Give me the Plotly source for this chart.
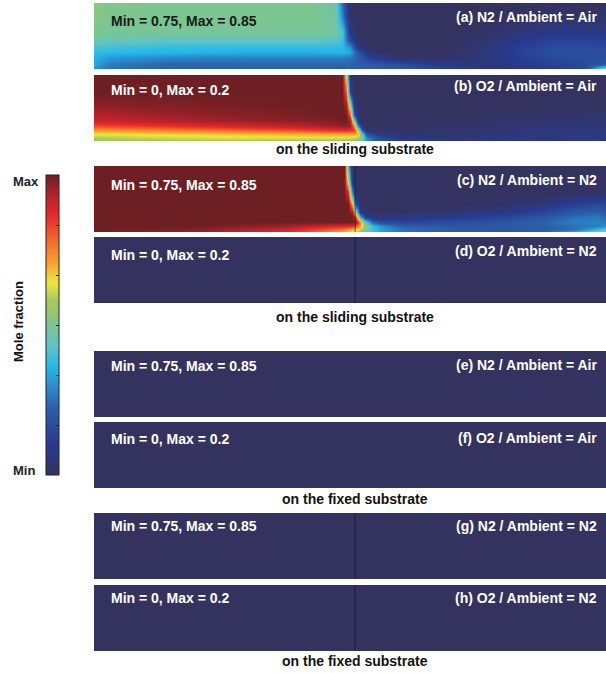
import plotly.graph_objects as go

W, H = 606, 673

# ---------------- colour scale (normalised mole fraction: 0 = Min, 1 = Max)
CSCALE = [
    [0.00, "#34335f"], [0.10, "#273a90"], [0.22, "#2c5ea9"], [0.30, "#2a8fd0"],
    [0.36, "#22b8ec"], [0.43, "#5ec4c6"], [0.50, "#7cc690"], [0.58, "#a8c95a"],
    [0.64, "#ebe63c"], [0.70, "#f8a82b"], [0.78, "#f26b2b"], [0.86, "#ec2a29"],
    [0.93, "#b8222a"], [1.00, "#6e1f23"],
]
CBAR_TICKS = [1/6, 2/6, 3/6, 4/6, 5/6]

# ---------------- field data (normalised), rows bottom -> top
A_X = [0.0, 0.03, 0.15, 0.3, 0.42, 0.47, 0.485, 0.5, 0.515, 0.54, 0.6, 0.68, 0.76, 0.84, 0.9, 0.96, 1.0]
A_Y = [0.0, 0.07, 0.16, 0.26, 0.34, 0.44, 0.56, 0.78, 1.0]
A_Z = [
    [0.30, 0.25, 0.22, 0.22, 0.22, 0.22, 0.22, 0.22, 0.22, 0.22, 0.20, 0.14, 0.06, 0.08, 0.10, 0.15, 0.55],
    [0.34, 0.27, 0.23, 0.23, 0.23, 0.23, 0.23, 0.23, 0.22, 0.20, 0.16, 0.08, 0.06, 0.10, 0.13, 0.15, 0.20],
    [0.35, 0.31, 0.28, 0.27, 0.27, 0.27, 0.27, 0.26, 0.21, 0.12, 0.03, 0.02, 0.05, 0.12, 0.15, 0.16, 0.16],
    [0.38, 0.37, 0.36, 0.35, 0.35, 0.36, 0.36, 0.34, 0.18, 0.03, 0.00, 0.00, 0.06, 0.13, 0.17, 0.17, 0.16],
    [0.41, 0.40, 0.38, 0.38, 0.38, 0.38, 0.37, 0.30, 0.06, 0.00, 0.00, 0.00, 0.05, 0.12, 0.16, 0.16, 0.15],
    [0.46, 0.45, 0.44, 0.44, 0.44, 0.43, 0.40, 0.15, 0.02, 0.00, 0.00, 0.00, 0.03, 0.09, 0.13, 0.13, 0.12],
    [0.50, 0.49, 0.49, 0.49, 0.49, 0.48, 0.42, 0.08, 0.00, 0.00, 0.00, 0.00, 0.01, 0.05, 0.08, 0.08, 0.07],
    [0.52, 0.50, 0.50, 0.50, 0.50, 0.48, 0.30, 0.02, 0.00, 0.00, 0.00, 0.00, 0.00, 0.02, 0.03, 0.03, 0.03],
    [0.53, 0.51, 0.50, 0.50, 0.50, 0.47, 0.25, 0.00, 0.00, 0.00, 0.00, 0.00, 0.00, 0.00, 0.00, 0.00, 0.00],
]

B_X = [0.0, 0.1, 0.25, 0.4, 0.47, 0.485, 0.493, 0.5, 0.507, 0.515, 0.523, 0.532, 0.55, 0.6, 0.7, 0.85, 1.0]
B_Y = [0.0, 0.05, 0.11, 0.17, 0.23, 0.3, 0.4, 0.55, 0.75, 1.0]
B_Z = [
    [0.55, 0.56, 0.57, 0.56, 0.55, 0.55, 0.55, 0.54, 0.52, 0.50, 0.45, 0.30, 0.20, 0.10, 0.05, 0.07, 0.08],
    [0.58, 0.60, 0.62, 0.62, 0.62, 0.62, 0.62, 0.62, 0.60, 0.58, 0.50, 0.30, 0.18, 0.08, 0.05, 0.07, 0.08],
    [0.64, 0.65, 0.67, 0.69, 0.70, 0.70, 0.70, 0.70, 0.70, 0.68, 0.45, 0.20, 0.10, 0.03, 0.04, 0.06, 0.07],
    [0.72, 0.74, 0.78, 0.82, 0.86, 0.87, 0.87, 0.86, 0.84, 0.60, 0.20, 0.05, 0.02, 0.02, 0.03, 0.05, 0.06],
    [0.82, 0.84, 0.88, 0.92, 0.95, 0.97, 0.97, 0.95, 0.75, 0.30, 0.05, 0.01, 0.00, 0.01, 0.02, 0.04, 0.05],
    [0.90, 0.92, 0.95, 0.97, 0.98, 1.00, 1.00, 0.95, 0.50, 0.08, 0.01, 0.00, 0.00, 0.00, 0.01, 0.03, 0.04],
    [0.93, 0.95, 0.97, 0.99, 1.00, 1.00, 1.00, 0.80, 0.20, 0.02, 0.00, 0.00, 0.00, 0.00, 0.00, 0.02, 0.03],
    [0.97, 0.98, 0.99, 1.00, 1.00, 1.00, 0.95, 0.55, 0.05, 0.00, 0.00, 0.00, 0.00, 0.00, 0.00, 0.00, 0.00],
    [1.00, 1.00, 1.00, 1.00, 1.00, 1.00, 0.80, 0.15, 0.00, 0.00, 0.00, 0.00, 0.00, 0.00, 0.00, 0.00, 0.00],
    [1.00, 1.00, 1.00, 1.00, 1.00, 1.00, 0.62, 0.05, 0.00, 0.00, 0.00, 0.00, 0.00, 0.00, 0.00, 0.00, 0.00],
]

C_X = [0.0, 0.2, 0.38, 0.45, 0.48, 0.488, 0.496, 0.504, 0.512, 0.52, 0.53, 0.545, 0.56, 0.6, 0.7, 0.8, 0.88, 0.94, 0.98, 1.0]
C_Y = [0.0, 0.04, 0.09, 0.15, 0.22, 0.3, 0.42, 0.58, 0.78, 1.0]
C_Z = [
    [1.00, 0.96, 0.86, 0.76, 0.70, 0.68, 0.66, 0.64, 0.60, 0.55, 0.46, 0.38, 0.32, 0.25, 0.21, 0.20, 0.22, 0.35, 0.50, 0.55],
    [1.00, 0.98, 0.90, 0.82, 0.78, 0.76, 0.74, 0.70, 0.66, 0.60, 0.50, 0.40, 0.33, 0.25, 0.21, 0.20, 0.21, 0.25, 0.35, 0.42],
    [1.00, 1.00, 0.95, 0.90, 0.88, 0.88, 0.87, 0.86, 0.80, 0.70, 0.55, 0.38, 0.30, 0.22, 0.20, 0.20, 0.22, 0.25, 0.27, 0.30],
    [1.00, 1.00, 1.00, 1.00, 1.00, 1.00, 1.00, 1.00, 0.95, 0.75, 0.45, 0.22, 0.16, 0.14, 0.16, 0.19, 0.23, 0.27, 0.28, 0.26],
    [1.00, 1.00, 1.00, 1.00, 1.00, 1.00, 1.00, 1.00, 0.80, 0.38, 0.12, 0.06, 0.06, 0.07, 0.10, 0.14, 0.20, 0.25, 0.26, 0.24],
    [1.00, 1.00, 1.00, 1.00, 1.00, 1.00, 1.00, 0.95, 0.50, 0.10, 0.03, 0.00, 0.00, 0.02, 0.04, 0.08, 0.14, 0.20, 0.22, 0.20],
    [1.00, 1.00, 1.00, 1.00, 1.00, 1.00, 1.00, 0.70, 0.15, 0.02, 0.00, 0.00, 0.00, 0.00, 0.00, 0.02, 0.06, 0.12, 0.15, 0.14],
    [1.00, 1.00, 1.00, 1.00, 1.00, 1.00, 0.90, 0.35, 0.03, 0.00, 0.00, 0.00, 0.00, 0.00, 0.00, 0.00, 0.00, 0.02, 0.02, 0.02],
    [1.00, 1.00, 1.00, 1.00, 1.00, 1.00, 0.60, 0.08, 0.00, 0.00, 0.00, 0.00, 0.00, 0.00, 0.00, 0.00, 0.00, 0.00, 0.00, 0.00],
    [1.00, 1.00, 1.00, 1.00, 1.00, 1.00, 0.40, 0.02, 0.00, 0.00, 0.00, 0.00, 0.00, 0.00, 0.00, 0.00, 0.00, 0.00, 0.00, 0.00],
]

ZERO_X = [0.0, 1.0]
ZERO_Y = [0.0, 1.0]
ZERO_Z = [[0.0, 0.0], [0.0, 0.0]]

FIELDS = [
    (A_X, A_Y, A_Z), (B_X, B_Y, B_Z), (C_X, C_Y, C_Z), (ZERO_X, ZERO_Y, ZERO_Z),
    (ZERO_X, ZERO_Y, ZERO_Z), (ZERO_X, ZERO_Y, ZERO_Z), (ZERO_X, ZERO_Y, ZERO_Z), (ZERO_X, ZERO_Y, ZERO_Z),
]

LEFT_LABELS = ["Min = 0.75, Max = 0.85", "Min = 0, Max = 0.2"] * 4
RIGHT_LABELS = [
    "(a) N2 / Ambient = Air", "(b) O2 / Ambient = Air",
    "(c) N2 / Ambient = N2", "(d) O2 / Ambient = N2",
    "(e) N2 / Ambient = Air", "(f) O2 / Ambient = Air",
    "(g) N2 / Ambient = N2", "(h) O2 / Ambient = N2",
]
GROUP_LABELS = ["on the sliding substrate", "on the sliding substrate",
                "on the fixed substrate", "on the fixed substrate"]
SUBSTRATE_EDGE = 0.51          # boundary line (x, normalised) shown for N2-ambient cases
EDGE_PANELS = [2, 3, 6, 7]

# ---------------- layout (pixels)
PANEL_LEFT, PANEL_RIGHT = 94, 606
PANEL_TOPS = [3, 75, 166, 237, 351, 422, 513, 585]
PANEL_H = 66
LEFT_OFF = [18, 15.5, 19, 17.5, 15.5, 17, 13.3, 13]
RIGHT_OFF = [13.7, 11.3, 14.5, 13.8, 14.3, 16, 13.3, 13]
GROUP_Y = [149, 317, 499, 661]
LEFT_COLORS = ["#1a1a1a"] + ["white"] * 7

FONT = "Liberation Sans, Arial, sans-serif"

fig = go.Figure()
layout = dict(
    width=W, height=H, margin=dict(l=0, r=0, t=0, b=0),
    paper_bgcolor="white", plot_bgcolor="white", showlegend=False,
    coloraxis=dict(
        cmin=0, cmax=1, colorscale=CSCALE,
        colorbar=dict(
            x=46 / W, xanchor="left", xpad=0, ypad=0,
            y=1 - 325 / H, yanchor="middle",
            len=300, lenmode="pixels", thickness=13,
            outlinewidth=1, outlinecolor="#222222",
            tickmode="array", tickvals=CBAR_TICKS, ticks="inside",
            ticklen=3, tickcolor="#222222", showticklabels=False,
        ),
    ),
)

annotations = []
shapes = []
for i, (fx, fy, fz) in enumerate(FIELDS):
    n = i + 1
    xa = "x" if n == 1 else f"x{n}"
    ya = "y" if n == 1 else f"y{n}"
    fig.add_trace(go.Heatmap(x=fx, y=fy, z=fz, zsmooth="best", coloraxis="coloraxis",
                             xaxis=xa, yaxis=ya, hoverinfo="skip"))
    top = PANEL_TOPS[i]
    layout[f"xaxis{n if n > 1 else ''}"] = dict(
        domain=[PANEL_LEFT / W, PANEL_RIGHT / W], range=[0, 1], visible=False,
        fixedrange=True, anchor=ya)
    layout[f"yaxis{n if n > 1 else ''}"] = dict(
        domain=[1 - (top + PANEL_H) / H, 1 - top / H], range=[0, 1], visible=False,
        fixedrange=True, anchor=xa)
    annotations.append(dict(
        text=f"<b>{LEFT_LABELS[i]}</b>", xref="paper", yref="paper",
        x=109 / W, y=1 - (top + LEFT_OFF[i]) / H, xanchor="left", yanchor="middle",
        showarrow=False, font=dict(family=FONT, size=14, color=LEFT_COLORS[i])))
    annotations.append(dict(
        text=f"<b>{RIGHT_LABELS[i]}</b>", xref="paper", yref="paper",
        x=599 / W, y=1 - (top + RIGHT_OFF[i]) / H, xanchor="right", yanchor="middle",
        showarrow=False, font=dict(family=FONT, size=14, color="white")))
    if i in EDGE_PANELS:
        shapes.append(dict(type="line", xref=xa, yref=f"{ya} domain",
                           x0=SUBSTRATE_EDGE, x1=SUBSTRATE_EDGE, y0=0, y1=1,
                           line=dict(color="rgba(20,20,35,0.65)", width=1)))

for gy, gl in zip(GROUP_Y, GROUP_LABELS):
    annotations.append(dict(
        text=f"<b>{gl}</b>", xref="paper", yref="paper",
        x=354.5 / W, y=1 - gy / H, xanchor="center", yanchor="middle",
        showarrow=False, font=dict(family=FONT, size=14, color="#111111")))

# colour bar labels
annotations += [
    dict(text="<b>Max</b>", xref="paper", yref="paper", x=11 / W, y=1 - 182 / H,
         xanchor="left", yanchor="middle", showarrow=False,
         font=dict(family=FONT, size=13, color="#222222")),
    dict(text="<b>Min</b>", xref="paper", yref="paper", x=11 / W, y=1 - 470 / H,
         xanchor="left", yanchor="middle", showarrow=False,
         font=dict(family=FONT, size=13, color="#222222")),
    dict(text="<b>Mole fraction</b>", xref="paper", yref="paper", x=18 / W, y=1 - 322 / H,
         xanchor="center", yanchor="middle", textangle=-90, showarrow=False,
         font=dict(family=FONT, size=13, color="#111111")),
]

layout["annotations"] = annotations
layout["shapes"] = shapes
fig.update_layout(**layout)
fig.write_html("out.html", config={"displayModeBar": False},
               post_script="document.body.style.margin='0px';document.body.style.padding='0px';")
